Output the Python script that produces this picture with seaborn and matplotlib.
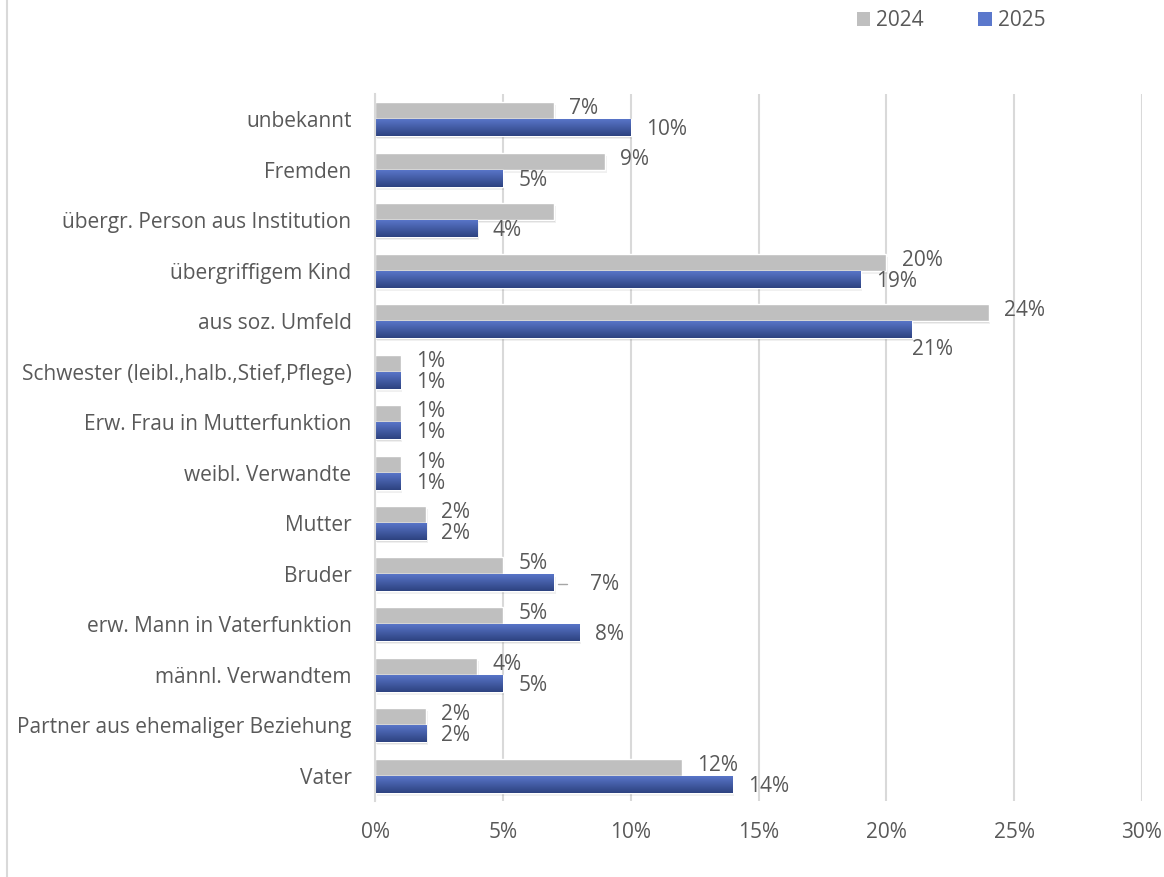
import matplotlib

matplotlib.use("Agg")
import matplotlib.pyplot as plt
import numpy as np
import pandas as pd
import seaborn as sns
from matplotlib.colors import to_rgb
from matplotlib.lines import Line2D
from matplotlib.patches import Patch

categories = [
    "unbekannt",
    "Fremden",
    "übergr. Person aus Institution",
    "übergriffigem Kind",
    "aus soz. Umfeld",
    "Schwester (leibl.,halb.,Stief,Pflege)",
    "Erw. Frau in Mutterfunktion",
    "weibl. Verwandte",
    "Mutter",
    "Bruder",
    "erw. Mann in Vaterfunktion",
    "männl. Verwandtem",
    "Partner aus ehemaliger Beziehung",
    "Vater",
]
values_2024 = [7, 9, 7, 20, 24, 1, 1, 1, 2, 5, 5, 4, 2, 12]
values_2025 = [10, 5, 4, 19, 21, 1, 1, 1, 2, 7, 8, 5, 2, 14]
# the 2024 bar of "übergr. Person aus Institution" carries no label
show_2024 = [True, True, False] + [True] * 11
years = ["2024", "2025"]
x_ticks = [0, 5, 10, 15, 20, 25, 30]

TEXT = "#595959"
GREY = "#bfbfbf"
BLUE_TOP = "#5b78cc"
BLUE_BOTTOM = "#2d4280"
FS = 15

sns.set_style("white")
plt.rcParams["font.family"] = ["Open Sans", "DejaVu Sans"]

df = pd.DataFrame(
    {
        "Kategorie": categories * 2,
        "Anteil": values_2024 + values_2025,
        "Jahr": [years[0]] * len(categories) + [years[1]] * len(categories),
    }
)

fig = plt.figure(figsize=(11.64, 8.77), dpi=100)
ax = fig.add_axes([375 / 1164, 1 - 801 / 877, 767 / 1164, 707 / 877])

sns.barplot(
    data=df,
    x="Anteil",
    y="Kategorie",
    hue="Jahr",
    order=categories,
    hue_order=years,
    palette=[GREY, BLUE_TOP],
    width=0.68,
    gap=0,
    legend=False,
    ax=ax,
    zorder=3,
)

ax.set_xlim(0, 30)
ylim = ax.get_ylim()

# soft shadow + gradient fill, roughly like the Excel bar style
n = len(categories)
bars = ax.patches[: 2 * n]
top_rgb = np.array(to_rgb(BLUE_TOP))
bot_rgb = np.array(to_rgb(BLUE_BOTTOM))
for i, bar in enumerate(bars):
    x0, y0 = bar.get_x(), bar.get_y()
    w, h = bar.get_width(), bar.get_height()
    for k, a in enumerate([0.10, 0.06]):
        ax.add_patch(
            plt.Rectangle(
                (x0 + 0.03 * (k + 1), y0 + 0.03 * (k + 1)),
                w,
                h,
                color="#000000",
                alpha=a,
                zorder=2,
                lw=0,
            )
        )
    if i >= n:
        t = np.linspace(0, 1, 64)[:, None, None]
        grad = top_rgb * (1 - t) + bot_rgb * t
        im = ax.imshow(
            grad,
            extent=[x0, x0 + w, y0 + h, y0],
            aspect="auto",
            zorder=4,
            interpolation="bilinear",
        )
        im.set_clip_path(bar)
ax.set_ylim(ylim)
ax.set_xlim(0, 30)

# value labels (2024 nudged up a bit, 2025 down, so the pairs do not collide)
for i, (cat, v) in enumerate(zip(categories, values_2024)):
    if show_2024[i]:
        bar = bars[i]
        ax.text(
            v + 0.6,
            bar.get_y() + bar.get_height() / 2 - 0.04,
            f"{v}%",
            va="center",
            ha="left",
            fontsize=FS,
            color=TEXT,
            zorder=5,
        )
for i, (cat, v) in enumerate(zip(categories, values_2025)):
    bar = bars[n + i]
    x_txt, y_txt = v + 0.6, bar.get_y() + bar.get_height() / 2 + 0.04
    if cat == "aus soz. Umfeld":
        x_txt, y_txt = v, y_txt + 0.34
    if cat == "Bruder":
        x_txt = v + 1.4
        ax.add_line(
            Line2D([v + 0.15, v + 0.5], [y_txt, y_txt], color="#a6a6a6", lw=1, zorder=5)
        )
    ax.text(
        x_txt,
        y_txt,
        f"{v}%",
        va="center",
        ha="left",
        fontsize=FS,
        color=TEXT,
        zorder=5,
    )

ax.set_xticks(x_ticks)
ax.set_xticklabels([f"{t}%" for t in x_ticks])
ax.tick_params(axis="x", length=0, pad=15, labelsize=FS, labelcolor=TEXT)
ax.tick_params(axis="y", length=0, pad=17, labelsize=FS, labelcolor=TEXT)
ax.set_xlabel("")
ax.set_ylabel("")
ax.grid(axis="x", color="#d9d9d9", lw=1.5, zorder=0)
ax.set_axisbelow(True)
for side in ["top", "right", "bottom"]:
    ax.spines[side].set_visible(False)
ax.spines["left"].set_color("#d9d9d9")
ax.spines["left"].set_linewidth(1.5)
ax.spines["left"].set_zorder(6)

# legend above the plot
handles = [
    Patch(facecolor=GREY, edgecolor="none", label=years[0]),
    Patch(facecolor=BLUE_TOP, edgecolor="none", label=years[1]),
]
fig.legend(
    handles=handles,
    loc="center",
    bbox_to_anchor=(951 / 1164, 1 - 21 / 877),
    ncol=2,
    frameon=False,
    fontsize=FS,
    labelcolor=TEXT,
    handlelength=0.65,
    handleheight=0.65,
    handletextpad=0.3,
    columnspacing=2.6,
)

# chart area border (only the left edge is visible in the crop)
fig.add_artist(Line2D([7 / 1164, 7 / 1164], [0, 1], color="#d9d9d9", lw=1.5))

fig.savefig("out.png", dpi=100)
